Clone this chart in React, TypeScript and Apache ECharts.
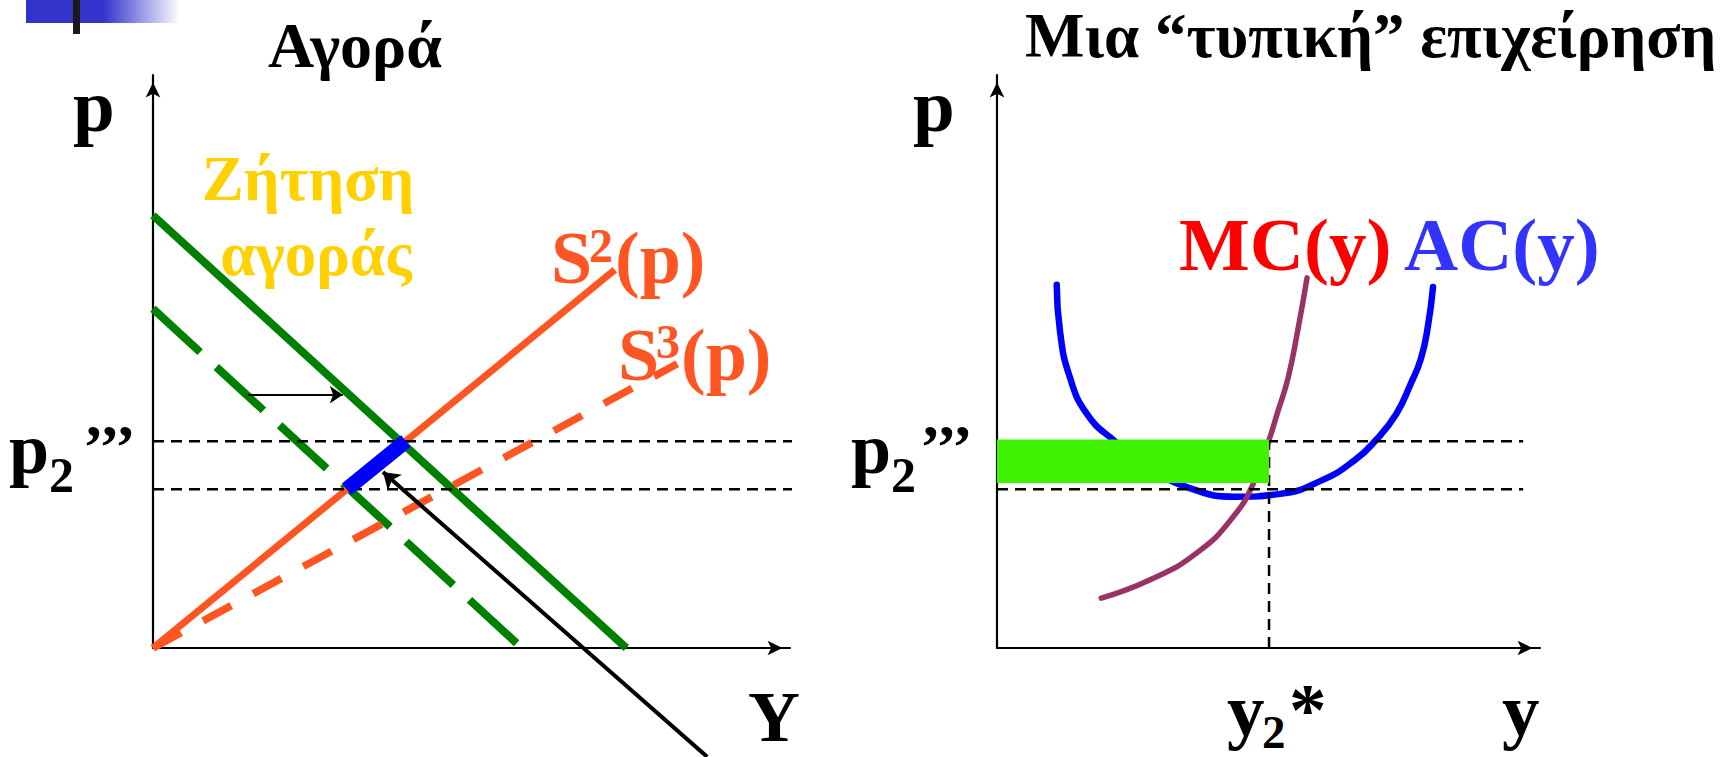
import React, { useEffect, useRef } from 'react';
import * as echarts from 'echarts';

// ---------- data (axis units: both panels run 0..10 on each axis) ----------
const AXIS_MAX = 10;

// Left panel: market ("Αγορά")
const demandSolid = [[0, 7.55], [7.43, 0]];
const demandShiftedDashed = [[0, 5.92], [5.79, 0]];
const supplyS2 = [[0, 0], [7.25, 6.6]];
const supplyS3 = [[0, 0], [8.23, 4.96]];
const priceHigh = 3.61; // p2''' upper
const priceLow = 2.77; // lower dashed level
const equilibriumSegment = [[3.04, 2.77], [3.97, 3.61]];
const shiftArrow = [[1.49, 4.42], [2.98, 4.42]];
const pointerArrow = [[8.7, -1.9], [3.61, 3.07]];
const leftUpperDashEnd = 10.86;
const leftLowerDashEnd = 13.25;

// Right panel: a "typical" firm
const acCurve = [
  [1.1, 6.34], [1.16, 5.53], [1.33, 4.76], [1.66, 4.08], [2.17, 3.61], [2.82, 3.14],
  [3.55, 2.79], [4.38, 2.64], [5.21, 2.69], [5.99, 2.93], [6.59, 3.28], [6.98, 3.63],
  [7.35, 4.08], [7.61, 4.59], [7.81, 5.06], [7.94, 5.64], [8.03, 6.3],
];
const mcCurve = [
  [1.92, 0.87], [2.82, 1.19], [3.68, 1.66], [4.35, 2.29], [4.75, 2.93], [5.01, 3.63],
  [5.17, 4.12], [5.36, 4.71], [5.54, 5.55], [5.71, 6.46],
];
const y2Star = 5.01;
const rightDashEnd = 9.69;
const profitRect = [[0, 2.88, 5.01, 3.64]];

// Labels
const titleLeft = 'Αγορά';
const titleRight = 'Μια “τυπική” επιχείρηση';
const demandLabel = ['Ζήτηση', 'αγοράς'];
const curveLabels = { mc: 'MC(y)', ac: 'AC(y)' };

// ---------- styles ----------
const FONT = '"Liberation Serif", "Times New Roman", serif';
const GREEN = '#008000';
const ORANGE = '#FF5522';
const BLUE = '#0000FF';
const BLACK = '#000000';

const txt = (text: string, x: number, base: number, size: number, fill: string, align = 'left') => ({
  type: 'text',
  x,
  y: base - 0.34 * size,
  z: 100,
  silent: true,
  style: {
    text,
    font: `bold ${size}px ${FONT}`,
    fill,
    align,
    textAlign: align,
    verticalAlign: 'middle',
    textVerticalAlign: 'middle',
  },
});

const axis = () => ({
  type: 'value',
  min: 0,
  max: AXIS_MAX,
  axisLine: {
    show: true,
    onZero: false,
    symbol: ['none', 'arrow'],
    symbolSize: [11, 15],
    symbolOffset: [0, -7.5],
    lineStyle: { color: BLACK, width: 2.2 },
  },
  axisTick: { show: false },
  axisLabel: { show: false },
  splitLine: { show: false },
});

const seg = (data: number[][], color: string, width: number, idx: number, type: any = 'solid', extra: any = {}) => ({
  type: 'line',
  xAxisIndex: idx,
  yAxisIndex: idx,
  data,
  symbol: 'none',
  showSymbol: false,
  silent: true,
  clip: false,
  lineStyle: { color, width, type, cap: 'butt' },
  ...extra,
});

const curve = (data: number[][], color: string, width: number) => ({
  ...seg(data, color, width, 1),
  smooth: 0.5,
  lineStyle: { color, width, cap: 'round', join: 'round' },
});

const arrow = (coords: number[][], width: number, size: number) => ({
  type: 'lines',
  coordinateSystem: 'cartesian2d',
  xAxisIndex: 0,
  yAxisIndex: 0,
  clip: false,
  silent: true,
  symbol: ['none', 'arrow'],
  symbolSize: size,
  lineStyle: { color: BLACK, width, opacity: 1, curveness: 0 },
  data: [{ coords }],
  z: 5,
});

const DASH = [11, 7];

const option: any = {
  animation: false,
  backgroundColor: '#ffffff',
  grid: [
    { left: 153, top: 75, width: 637, height: 573 },
    { left: 997, top: 75, width: 543, height: 573 },
  ],
  xAxis: [{ ...axis(), gridIndex: 0 }, { ...axis(), gridIndex: 1 }],
  yAxis: [{ ...axis(), gridIndex: 0 }, { ...axis(), gridIndex: 1 }],
  series: [
    // left panel
    seg(demandShiftedDashed, GREEN, 8, 0, [64, 22]),
    seg(demandSolid, GREEN, 8, 0),
    seg(supplyS3, ORANGE, 7.5, 0, [32, 25]),
    seg(supplyS2, ORANGE, 7, 0),
    seg([[0, priceHigh], [leftUpperDashEnd, priceHigh]], BLACK, 2.5, 0, DASH),
    seg([[0, priceLow], [leftLowerDashEnd, priceLow]], BLACK, 2.5, 0, DASH),
    seg(equilibriumSegment, BLUE, 15, 0),
    arrow(shiftArrow, 2.2, 13),
    arrow(pointerArrow, 4, 16),
    // right panel
    curve(acCurve, BLUE, 6.5),
    curve(mcCurve, '#993366', 5.5),
    seg([[0, priceHigh], [rightDashEnd, priceHigh]], BLACK, 2.5, 1, DASH),
    seg([[0, priceLow], [rightDashEnd, priceLow]], BLACK, 2.5, 1, DASH),
    seg([[y2Star, 0], [y2Star, priceHigh]], BLACK, 2.5, 1, DASH),
    {
      type: 'custom',
      xAxisIndex: 1,
      yAxisIndex: 1,
      silent: true,
      data: profitRect,
      z: 4,
      renderItem: (_p: any, api: any) => {
        const a = api.coord([api.value(0), api.value(1)]);
        const b = api.coord([api.value(2), api.value(3)]);
        return {
          type: 'rect',
          shape: { x: a[0], y: b[1], width: b[0] - a[0], height: a[1] - b[1] },
          style: { fill: '#3FF200' },
        };
      },
    },
  ],
  graphic: {
    elements: [
      {
        type: 'rect',
        shape: { x: 26, y: 0, width: 154, height: 23 },
        silent: true,
        style: {
          fill: new echarts.graphic.LinearGradient(0, 0, 1, 0, [
            { offset: 0, color: '#3333CC' },
            { offset: 0.5, color: '#3333CC' },
            { offset: 1, color: '#FFFFFF' },
          ]),
        },
      },
      { type: 'rect', shape: { x: 73, y: 0, width: 7, height: 34 }, silent: true, style: { fill: '#1a1a1a' } },
      txt(titleLeft, 355, 67, 64, BLACK, 'center'),
      txt(titleRight, 1025, 57, 63, BLACK),
      txt('p', 73, 131, 75, BLACK),
      txt('p', 913, 131, 75, BLACK),
      txt(demandLabel[0], 308, 200, 63, '#FFD100', 'center'),
      txt(demandLabel[1], 316, 275, 63, '#FFD100', 'center'),
      // S2(p)
      txt('S', 551, 283, 74, ORANGE),
      txt('2', 589, 262, 48, ORANGE),
      txt('(p)', 615, 283, 74, ORANGE),
      // S3(p)
      txt('S', 618, 380, 74, ORANGE),
      txt('3', 656, 358, 48, ORANGE),
      txt('(p)', 681, 380, 74, ORANGE),
      // p2''' left
      txt('p', 9, 473, 72, BLACK),
      txt('2', 49, 492, 50, BLACK),
      txt('’’’', 83, 467, 62, BLACK),
      // p2''' right
      txt('p', 851, 473, 72, BLACK),
      txt('2', 891, 492, 50, BLACK),
      txt('’’’', 920, 467, 62, BLACK),
      txt('Y', 748, 741, 72, BLACK),
      txt(curveLabels.mc, 1179, 270, 75, '#FF0000'),
      txt(curveLabels.ac, 1404, 270, 75, '#3333FF'),
      // y2*
      txt('y', 1227, 735, 75, BLACK),
      txt('2', 1262, 748, 47, BLACK),
      txt('*', 1289, 735, 75, BLACK),
      txt('y', 1502, 735, 75, BLACK),
    ],
  },
};

export default function App() {
  const ref = useRef<HTMLDivElement>(null);
  useEffect(() => {
    const chart = echarts.init(ref.current!, null, { renderer: 'svg' });
    chart.setOption(option);
    return () => chart.dispose();
  }, []);
  return (
    <div
      ref={ref}
      style={{ position: 'fixed', left: 0, top: 0, width: 1731, height: 757, background: '#fff' }}
    />
  );
}
